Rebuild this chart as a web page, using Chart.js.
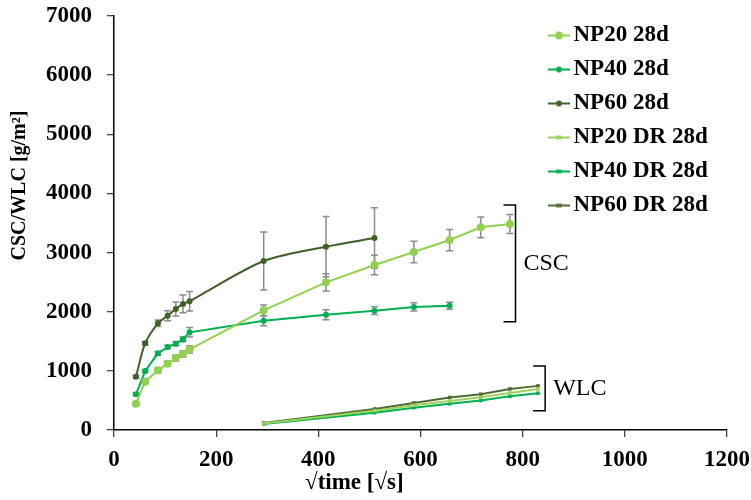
<!DOCTYPE html>
<html>
<head>
<meta charset="utf-8">
<script src="https://cdn.jsdelivr.net/npm/chart.js@4.4.1/dist/chart.umd.min.js"></script>
<style>
  body { margin: 0; background: #fff; }
  canvas { display: block; }
</style>
</head>
<body>
<canvas id="myChart" width="751" height="500"></canvas>
<script>
// sqrt(time) values for the capillary (CSC) and water loss (WLC) runs
const cscTime = [43, 61, 86, 105, 121, 135, 148, 293, 415, 510, 587, 657, 718, 775];
const wlcTime = [293, 510, 587, 657, 718, 775, 830];

const np20 = [445, 817, 1009, 1121, 1217, 1285, 1364, 2023, 2497, 2790, 3010, 3212, 3427, 3483];
const np20Err = [20, 30, 40, 45, 50, 55, 60, 90, 145, 165, 180, 180, 175, 160];
const np40 = [604, 998, 1296, 1403, 1460, 1533, 1651, 1849, 1950, 2017, 2080, 2102];
const np40Err = [20, 25, 30, 30, 35, 40, 80, 85, 85, 65, 70, 60];
const np60 = [901, 1465, 1804, 1933, 2046, 2131, 2176, 2857, 3100, 3246];
const np60Err = [20, 30, 55, 85, 120, 150, 165, 490, 510, 510];

const np20Dr = [110, 327, 418, 490, 554, 627, 695];
const np40Dr = [100, 293, 378, 443, 497, 571, 622];
const np60Dr = [120, 356, 458, 550, 605, 695, 746];

const seriesNames = ["NP20 28d", "NP40 28d", "NP60 28d", "NP20 DR 28d", "NP40 DR 28d", "NP60 DR 28d"];
const xTicks = [0, 200, 400, 600, 800, 1000, 1200];
const yTicks = [0, 1000, 2000, 3000, 4000, 5000, 6000, 7000];

const brackets = [
  { text: "CSC", x: 786, top: 3804, bottom: 1831 },
  { text: "WLC", x: 844, top: 1082, bottom: 326 },
];

const green20 = "#92D050";
const green40 = "#00B050";
const green60 = "#3F6128";
const green20Dr = "#9BD35A";
const green40Dr = "#00B050";
const green60Dr = "#4E6B34";

const toPoints = (xs, ys) => xs.map((x, i) => ({ x: x, y: ys[i] }));

function legendSymbol(color, marker, r) {
  const c = document.createElement("canvas");
  c.width = 22;
  c.height = 12;
  const ctx = c.getContext("2d");
  ctx.strokeStyle = color;
  ctx.lineWidth = 2;
  ctx.beginPath();
  ctx.moveTo(0, 6);
  ctx.lineTo(22, 6);
  ctx.stroke();
  ctx.fillStyle = color;
  if (marker === "circle") {
    ctx.beginPath();
    ctx.arc(11, 6, r, 0, Math.PI * 2);
    ctx.fill();
  } else {
    ctx.fillRect(11 - r, 6 - r * 0.6, r * 2, r * 1.2);
  }
  return c;
}

function lineSet(label, xs, ys, errs, color, style, radius, tension) {
  return {
    label: label,
    data: toPoints(xs, ys),
    errors: errs,
    borderColor: color,
    backgroundColor: color,
    borderWidth: 2,
    pointStyle: style,
    pointRadius: radius,
    pointBorderWidth: 0,
    tension: tension,
    symbol: legendSymbol(color, style, style === "circle" ? radius : 3),
  };
}

const datasets = [
  lineSet(seriesNames[0], cscTime, np20, np20Err, green20, "circle", 4, 0),
  lineSet(seriesNames[1], cscTime, np40, np40Err, green40, "circle", 3, 0),
  lineSet(seriesNames[2], cscTime, np60, np60Err, green60, "circle", 3, 0.3),
  lineSet(seriesNames[3], wlcTime, np20Dr, null, green20Dr, "rect", 2.5, 0),
  lineSet(seriesNames[4], wlcTime, np40Dr, null, green40Dr, "rect", 2.5, 0),
  lineSet(seriesNames[5], wlcTime, np60Dr, null, green60Dr, "rect", 2.5, 0),
];

// grey error bars, drawn under the lines
const errorBars = {
  id: "errorBars",
  beforeDatasetsDraw(chart) {
    const { ctx, scales } = chart;
    ctx.save();
    ctx.strokeStyle = "#8C8C8C";
    ctx.lineWidth = 1.5;
    chart.data.datasets.forEach((ds) => {
      if (!ds.errors) return;
      ds.data.forEach((p, i) => {
        const px = scales.x.getPixelForValue(p.x);
        const top = scales.y.getPixelForValue(p.y + ds.errors[i]);
        const bot = scales.y.getPixelForValue(p.y - ds.errors[i]);
        ctx.beginPath();
        ctx.moveTo(px, top);
        ctx.lineTo(px, bot);
        ctx.moveTo(px - 3.5, top);
        ctx.lineTo(px + 3.5, top);
        ctx.moveTo(px - 3.5, bot);
        ctx.lineTo(px + 3.5, bot);
        ctx.stroke();
      });
    });
    ctx.restore();
  },
};

// "CSC" / "WLC" brackets on the right
const bracketNotes = {
  id: "bracketNotes",
  afterDatasetsDraw(chart) {
    const { ctx, scales } = chart;
    ctx.save();
    ctx.strokeStyle = "#000";
    ctx.lineWidth = 1.5;
    ctx.fillStyle = "#000";
    ctx.font = "24px 'Liberation Serif'";
    ctx.textBaseline = "middle";
    brackets.forEach((b) => {
      const px = scales.x.getPixelForValue(b.x);
      const top = scales.y.getPixelForValue(b.top);
      const bot = scales.y.getPixelForValue(b.bottom);
      ctx.beginPath();
      ctx.moveTo(px - 12, top);
      ctx.lineTo(px, top);
      ctx.lineTo(px, bot);
      ctx.lineTo(px - 12, bot);
      ctx.stroke();
      ctx.fillText(b.text, px + 8, (top + bot) / 2);
    });
    ctx.restore();
  },
};

// legend sits inside the plot, top right
const legendPlace = {
  id: "legendPlace",
  afterLayout(chart) {
    const lg = chart.legend;
    lg.left = 545;
    lg.top = 13;
    lg.right = 751;
    lg.bottom = 260;
  },
};

const boldFont = { family: "'Liberation Serif'", size: 23, weight: "bold" };

const config = {
  type: "line",
  data: { datasets },
  plugins: [errorBars, bracketNotes, legendPlace],
  options: {
    responsive: false,
    animation: false,
    layout: { padding: { top: 16, right: 24, left: 0, bottom: 0 } },
    plugins: {
      tooltip: { enabled: false },
      legend: {
        position: "chartArea",
        align: "start",
        labels: {
          font: boldFont,
          color: "#000",
          usePointStyle: true,
          pointStyleWidth: 6,
          boxHeight: 10,
          padding: 11,
          generateLabels: (chart) => {
            const items = Chart.defaults.plugins.legend.labels.generateLabels(chart);
            items.forEach((item) => {
              item.pointStyle = chart.data.datasets[item.datasetIndex].symbol;
            });
            return items;
          },
        },
      },
    },
    scales: {
      x: {
        type: "linear",
        min: xTicks[0],
        max: xTicks[xTicks.length - 1],
        afterBuildTicks: (scale) => {
          scale.ticks = xTicks.map((v) => ({ value: v }));
        },
        afterFit: (scale) => {
          scale.height = 70;
          scale.paddingLeft = 0;
          scale.paddingRight = 0;
        },
        grid: { drawOnChartArea: false, tickLength: 7, color: "#404040", lineWidth: 1.3 },
        border: { color: "#000", width: 1.5 },
        ticks: { font: boldFont, color: "#000", padding: 9, maxRotation: 0, callback: (v) => String(v) },
        title: {
          display: true,
          text: "√time [√s]" + " ".repeat(23),
          font: boldFont,
          color: "#000",
          padding: { top: 0, bottom: 3 },
        },
      },
      y: {
        min: yTicks[0],
        max: yTicks[yTicks.length - 1],
        afterBuildTicks: (scale) => {
          scale.ticks = yTicks.map((v) => ({ value: v }));
        },
        afterFit: (scale) => {
          scale.width = 114;
          scale.paddingTop = 0;
          scale.paddingBottom = 0;
        },
        grid: { drawOnChartArea: false, tickLength: 7, color: "#404040", lineWidth: 1.3 },
        border: { color: "#000", width: 1.5 },
        ticks: { font: boldFont, color: "#000", padding: 15, callback: (v) => String(v) },
        title: {
          display: true,
          text: " ".repeat(15) + "CSC/WLC [g/m²]",
          font: { family: "'Liberation Serif'", size: 20, weight: "bold" },
          color: "#000",
          padding: { top: 8, bottom: 0 },
        },
      },
    },
  },
};

const myChart = document.getElementById("myChart");
const graphic = new Chart(myChart, config);
</script>
</body>
</html>
